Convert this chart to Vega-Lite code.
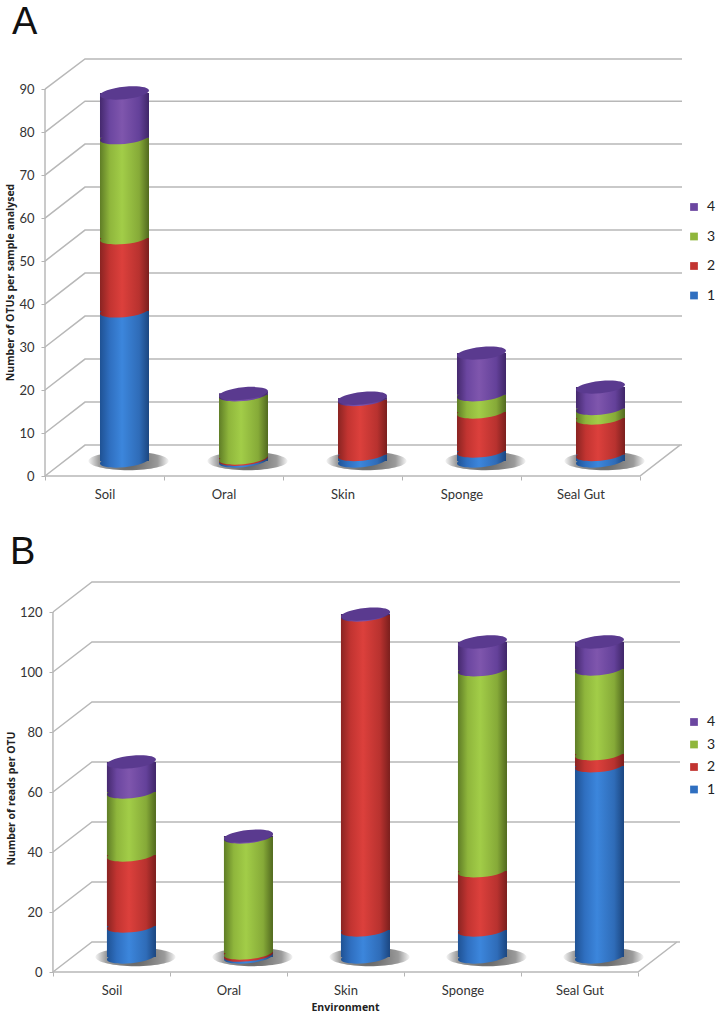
{"$schema":"https://vega.github.io/schema/vega-lite/v6.json","padding":{"left":5,"top":4,"right":0,"bottom":0},"background":"white","spacing":106,"bounds":"flush","resolve":{"scale":{"color":"independent"},"legend":{"color":"independent"}},"config":{"view":{"stroke":null},"font":"Lato","scale":{"continuousPadding":0},"axis":{"grid":false,"domain":false,"labelFont":"Lato","labelFontSize":13,"labelColor":"#333333","tickColor":"#b4b4b4","tickSize":4,"titleFont":"Open Sans","titleFontSize":10.5,"titleFontWeight":"bold","titleColor":"#222222"},"legend":{"labelFont":"Lato","labelFontSize":14,"labelColor":"#222222"}},
"datasets":{
"a":[{"env":"Soil","pos":0.5,"series":"1","value":34.9},{"env":"Soil","pos":0.5,"series":"2","value":17},{"env":"Soil","pos":0.5,"series":"3","value":23.3},{"env":"Soil","pos":0.5,"series":"4","value":10.4},
{"env":"Oral","pos":1.5,"series":"1","value":0.4},{"env":"Oral","pos":1.5,"series":"2","value":0.3},{"env":"Oral","pos":1.5,"series":"3","value":14.7},{"env":"Oral","pos":1.5,"series":"4","value":0.3},
{"env":"Skin","pos":2.5,"series":"1","value":1.5},{"env":"Skin","pos":2.5,"series":"2","value":12.8},{"env":"Skin","pos":2.5,"series":"3","value":0},{"env":"Skin","pos":2.5,"series":"4","value":0.3},
{"env":"Sponge","pos":3.5,"series":"1","value":2.3},{"env":"Sponge","pos":3.5,"series":"2","value":9.1},{"env":"Sponge","pos":3.5,"series":"3","value":4},{"env":"Sponge","pos":3.5,"series":"4","value":9.7},
{"env":"Seal Gut","pos":4.5,"series":"1","value":1.5},{"env":"Seal Gut","pos":4.5,"series":"2","value":8.5},{"env":"Seal Gut","pos":4.5,"series":"3","value":2.2},{"env":"Seal Gut","pos":4.5,"series":"4","value":5}],
"b":[{"env":"Soil","pos":0.5,"series":"1","value":10.3},{"env":"Soil","pos":0.5,"series":"2","value":23.7},{"env":"Soil","pos":0.5,"series":"3","value":21},{"env":"Soil","pos":0.5,"series":"4","value":10},
{"env":"Oral","pos":1.5,"series":"1","value":0.6},{"env":"Oral","pos":1.5,"series":"2","value":0.7},{"env":"Oral","pos":1.5,"series":"3","value":38.7},{"env":"Oral","pos":1.5,"series":"4","value":0.3},
{"env":"Skin","pos":2.5,"series":"1","value":9},{"env":"Skin","pos":2.5,"series":"2","value":105},{"env":"Skin","pos":2.5,"series":"3","value":0},{"env":"Skin","pos":2.5,"series":"4","value":0.3},
{"env":"Sponge","pos":3.5,"series":"1","value":9},{"env":"Sponge","pos":3.5,"series":"2","value":19.7},{"env":"Sponge","pos":3.5,"series":"3","value":67},{"env":"Sponge","pos":3.5,"series":"4","value":9.3},
{"env":"Seal Gut","pos":4.5,"series":"1","value":63.7},{"env":"Seal Gut","pos":4.5,"series":"2","value":4},{"env":"Seal Gut","pos":4.5,"series":"3","value":28.3},{"env":"Seal Gut","pos":4.5,"series":"4","value":9}],
"gridA":[{"g":"v0","x":0,"y":0},{"g":"v0","x":0.336,"y":7.2},{"g":"v0","x":5.353,"y":7.2},{"g":"v10","x":0,"y":10},{"g":"v10","x":0.336,"y":17.2},{"g":"v10","x":5.353,"y":17.2},{"g":"v20","x":0,"y":20},{"g":"v20","x":0.336,"y":27.2},{"g":"v20","x":5.353,"y":27.2},{"g":"v30","x":0,"y":30},{"g":"v30","x":0.336,"y":37.2},{"g":"v30","x":5.353,"y":37.2},{"g":"v40","x":0,"y":40},{"g":"v40","x":0.336,"y":47.2},{"g":"v40","x":5.353,"y":47.2},{"g":"v50","x":0,"y":50},{"g":"v50","x":0.336,"y":57.2},{"g":"v50","x":5.353,"y":57.2},{"g":"v60","x":0,"y":60},{"g":"v60","x":0.336,"y":67.2},{"g":"v60","x":5.353,"y":67.2},{"g":"v70","x":0,"y":70},{"g":"v70","x":0.336,"y":77.2},{"g":"v70","x":5.353,"y":77.2},{"g":"v80","x":0,"y":80},{"g":"v80","x":0.336,"y":87.2},{"g":"v80","x":5.353,"y":87.2},{"g":"v90","x":0,"y":90},{"g":"v90","x":0.336,"y":97},{"g":"v90","x":5.353,"y":97},{"g":"left","x":0,"y":0},{"g":"left","x":0,"y":90},{"g":"floor","x":0,"y":0},{"g":"floor","x":5,"y":0},{"g":"floor","x":5.336,"y":7.2}],
"gridB":[{"g":"v0","x":0,"y":0},{"g":"v0","x":0.333,"y":10},{"g":"v0","x":5.359,"y":10},{"g":"v20","x":0,"y":20},{"g":"v20","x":0.333,"y":30},{"g":"v20","x":5.359,"y":30},{"g":"v40","x":0,"y":40},{"g":"v40","x":0.333,"y":50},{"g":"v40","x":5.359,"y":50},{"g":"v60","x":0,"y":60},{"g":"v60","x":0.333,"y":70},{"g":"v60","x":5.359,"y":70},{"g":"v80","x":0,"y":80},{"g":"v80","x":0.333,"y":90},{"g":"v80","x":5.359,"y":90},{"g":"v100","x":0,"y":100},{"g":"v100","x":0.333,"y":110},{"g":"v100","x":5.359,"y":110},{"g":"v120","x":0,"y":120},{"g":"v120","x":0.333,"y":130},{"g":"v120","x":5.359,"y":130},{"g":"left","x":0,"y":0},{"g":"left","x":0,"y":120},{"g":"floor","x":0,"y":0},{"g":"floor","x":5,"y":0},{"g":"floor","x":5.333,"y":10}]
},
"vconcat":[
{"title":{"text":"A","anchor":"start","frame":"group","dx":-33,"offset":14,"fontSize":38,"font":"Liberation Sans","fontWeight":"normal","color":"#111111"},
"width":637,"height":417,
"data":{"name":"a"},
"transform":[{"stack":"value","groupby":["env"],"sort":[{"field":"series","order":"ascending"}],"as":["y0","y1"]},{"filter":"datum.value>0"}],
"layer":[
{"data":{"name":"gridA"},"mark":{"type":"line","color":"#b8b8b8","strokeWidth":1.5},"encoding":{"x":{"field":"x","type":"quantitative","scale":{"domain":[0,5.353],"nice":false},"axis":{"title":null,"values":[0,0.5,1,1.5,2,2.5,3,3.5,4,4.5,5],"labelExpr":"{'0.5':'Soil','1.5':'Oral','2.5':'Skin','3.5':'Sponge','4.5':'Seal Gut'}[''+datum.value]||''","labelOverlap":false,"labelPadding":8,"tickOpacity":{"condition":{"test":"datum.value%1!=0","value":0},"value":1}}},"y":{"field":"y","type":"quantitative","scale":{"domain":[0,97],"nice":false},"axis":{"title":"Number of OTUs per sample analysed","titleX":-30,"titleY":223,"labelPadding":7,"values":[0,10,20,30,40,50,60,70,80,90]}},"detail":{"field":"g"},"order":{"field":"x"}}},
{"transform":[{"filter":"datum.series=='1'"}],"mark":{"type":"point","filled":true,"strokeWidth":0,"xOffset":24,"yOffset":-15,"shape":"M-1,0A1,0.23 0 1,1 1,0A1,0.23 0 1,1 -1,0Z","size":6400,"opacity":1,"fill":{"gradient":"radial","x1":0.5,"y1":0.5,"r1":0.05,"x2":0.5,"y2":0.5,"r2":0.5,"stops":[{"offset":0,"color":"#666666"},{"offset":0.7,"color":"#9a9a9a"},{"offset":1,"color":"#f4f4f4"}]}},"encoding":{"x":{"field":"pos","type":"quantitative"},"y":{"field":"y0","type":"quantitative"}}},
{"mark":{"type":"bar","orient":"vertical","width":49,"xOffset":20,"x2Offset":20,"yOffset":-15,"y2Offset":-15},"encoding":{"x":{"field":"pos","type":"quantitative"},"y":{"field":"y0","type":"quantitative"},"y2":{"field":"y1"},"color":{"field":"series","type":"nominal","scale":{"domain":["4","3","2","1"],"range":["#6b46a0","#8fb63c","#c23431","#2f6fc0"]},"legend":{"title":null,"orient":"none","legendX":642,"legendY":141,"symbolType":"square","symbolSize":60,"rowPadding":15.5,"labelOffset":6}}}},
{"mark":{"type":"bar","orient":"vertical","width":49,"xOffset":20,"x2Offset":20,"yOffset":-15,"y2Offset":-15},"encoding":{"x":{"field":"pos","type":"quantitative"},"y":{"field":"y0","type":"quantitative"},"y2":{"field":"y1"},"fill":{"condition":[{"test":"datum.series=='1'","value":{"gradient":"linear","x1":0,"x2":1,"y1":0,"y2":0,"stops":[{"offset":0,"color":"#1f5294"},{"offset":0.2,"color":"#2f6fc0"},{"offset":0.45,"color":"#3c86dc"},{"offset":0.8,"color":"#2f6cb8"},{"offset":1,"color":"#1b4680"}]}},{"test":"datum.series=='2'","value":{"gradient":"linear","x1":0,"x2":1,"y1":0,"y2":0,"stops":[{"offset":0,"color":"#8a2422"},{"offset":0.2,"color":"#c23431"},{"offset":0.45,"color":"#dc403c"},{"offset":0.8,"color":"#b8322f"},{"offset":1,"color":"#7a1f1d"}]}},{"test":"datum.series=='3'","value":{"gradient":"linear","x1":0,"x2":1,"y1":0,"y2":0,"stops":[{"offset":0,"color":"#5f7d26"},{"offset":0.2,"color":"#8fb63c"},{"offset":0.45,"color":"#a2cd48"},{"offset":0.8,"color":"#86aa38"},{"offset":1,"color":"#51691f"}]}}],"value":{"gradient":"linear","x1":0,"x2":1,"y1":0,"y2":0,"stops":[{"offset":0,"color":"#45296e"},{"offset":0.2,"color":"#6b46a0"},{"offset":0.45,"color":"#7f56ad"},{"offset":0.8,"color":"#64419a"},{"offset":1,"color":"#3f2668"}]}}}},
{"mark":{"type":"point","filled":true,"strokeWidth":0,"opacity":1,"xOffset":20,"yOffset":-15,"shape":"M-1,0.1A1,0.25 -6 1,1 1,-0.1A1,0.25 -6 1,1 -1,0.1Z","size":2401},"encoding":{"x":{"field":"pos","type":"quantitative"},"y":{"field":"y0","type":"quantitative"},"fill":{"condition":[{"test":"datum.series=='1'","value":{"gradient":"linear","x1":0,"x2":1,"y1":0,"y2":0,"stops":[{"offset":0,"color":"#1f5294"},{"offset":0.2,"color":"#2f6fc0"},{"offset":0.45,"color":"#3c86dc"},{"offset":0.8,"color":"#2f6cb8"},{"offset":1,"color":"#1b4680"}]}},{"test":"datum.series=='2'","value":{"gradient":"linear","x1":0,"x2":1,"y1":0,"y2":0,"stops":[{"offset":0,"color":"#8a2422"},{"offset":0.2,"color":"#c23431"},{"offset":0.45,"color":"#dc403c"},{"offset":0.8,"color":"#b8322f"},{"offset":1,"color":"#7a1f1d"}]}},{"test":"datum.series=='3'","value":{"gradient":"linear","x1":0,"x2":1,"y1":0,"y2":0,"stops":[{"offset":0,"color":"#5f7d26"},{"offset":0.2,"color":"#8fb63c"},{"offset":0.45,"color":"#a2cd48"},{"offset":0.8,"color":"#86aa38"},{"offset":1,"color":"#51691f"}]}}],"value":{"gradient":"linear","x1":0,"x2":1,"y1":0,"y2":0,"stops":[{"offset":0,"color":"#45296e"},{"offset":0.2,"color":"#6b46a0"},{"offset":0.45,"color":"#7f56ad"},{"offset":0.8,"color":"#64419a"},{"offset":1,"color":"#3f2668"}]}},"order":{"field":"series"}}},
{"transform":[{"filter":"datum.series=='4'"}],"mark":{"type":"point","filled":true,"strokeWidth":0,"opacity":1,"fill":"#5a3a8f","xOffset":20,"yOffset":-15,"shape":"M-1,0.1A1,0.25 -6 1,1 1,-0.1A1,0.25 -6 1,1 -1,0.1Z","size":2401},"encoding":{"x":{"field":"pos","type":"quantitative"},"y":{"field":"y1","type":"quantitative"}}}
]},
{"title":{"text":"B","anchor":"start","frame":"group","dx":-35,"offset":7,"fontSize":38,"font":"Liberation Sans","fontWeight":"normal","color":"#111111"},
"width":635,"height":390,
"data":{"name":"b"},
"transform":[{"stack":"value","groupby":["env"],"sort":[{"field":"series","order":"ascending"}],"as":["y0","y1"]},{"filter":"datum.value>0"}],
"layer":[
{"data":{"name":"gridB"},"mark":{"type":"line","color":"#b8b8b8","strokeWidth":1.5},"encoding":{"x":{"field":"x","type":"quantitative","scale":{"domain":[-0.068,5.359],"nice":false},"axis":{"title":"Environment","titleX":300,"values":[0,0.5,1,1.5,2,2.5,3,3.5,4,4.5,5],"labelExpr":"{'0.5':'Soil','1.5':'Oral','2.5':'Skin','3.5':'Sponge','4.5':'Seal Gut'}[''+datum.value]||''","labelOverlap":false,"labelPadding":8,"titlePadding":5,"tickOpacity":{"condition":{"test":"datum.value%1!=0","value":0},"value":1}}},"y":{"field":"y","type":"quantitative","scale":{"domain":[0,130],"nice":false},"axis":{"title":"Number of reads per OTU","offset":-8,"titleX":-37,"titleY":216,"labelPadding":7,"values":[0,20,40,60,80,100,120]}},"detail":{"field":"g"},"order":{"field":"x"}}},
{"transform":[{"filter":"datum.series=='1'"}],"mark":{"type":"point","filled":true,"strokeWidth":0,"xOffset":24,"yOffset":-15,"shape":"M-1,0A1,0.23 0 1,1 1,0A1,0.23 0 1,1 -1,0Z","size":6400,"opacity":1,"fill":{"gradient":"radial","x1":0.5,"y1":0.5,"r1":0.05,"x2":0.5,"y2":0.5,"r2":0.5,"stops":[{"offset":0,"color":"#666666"},{"offset":0.7,"color":"#9a9a9a"},{"offset":1,"color":"#f4f4f4"}]}},"encoding":{"x":{"field":"pos","type":"quantitative"},"y":{"field":"y0","type":"quantitative"}}},
{"mark":{"type":"bar","orient":"vertical","width":49,"xOffset":20,"x2Offset":20,"yOffset":-15,"y2Offset":-15},"encoding":{"x":{"field":"pos","type":"quantitative"},"y":{"field":"y0","type":"quantitative"},"y2":{"field":"y1"},"color":{"field":"series","type":"nominal","scale":{"domain":["4","3","2","1"],"range":["#6b46a0","#8fb63c","#c23431","#2f6fc0"]},"legend":{"title":null,"orient":"none","legendX":642,"legendY":133,"symbolType":"square","symbolSize":60,"rowPadding":8.5,"labelOffset":6}}}},
{"mark":{"type":"bar","orient":"vertical","width":49,"xOffset":20,"x2Offset":20,"yOffset":-15,"y2Offset":-15},"encoding":{"x":{"field":"pos","type":"quantitative"},"y":{"field":"y0","type":"quantitative"},"y2":{"field":"y1"},"fill":{"condition":[{"test":"datum.series=='1'","value":{"gradient":"linear","x1":0,"x2":1,"y1":0,"y2":0,"stops":[{"offset":0,"color":"#1f5294"},{"offset":0.2,"color":"#2f6fc0"},{"offset":0.45,"color":"#3c86dc"},{"offset":0.8,"color":"#2f6cb8"},{"offset":1,"color":"#1b4680"}]}},{"test":"datum.series=='2'","value":{"gradient":"linear","x1":0,"x2":1,"y1":0,"y2":0,"stops":[{"offset":0,"color":"#8a2422"},{"offset":0.2,"color":"#c23431"},{"offset":0.45,"color":"#dc403c"},{"offset":0.8,"color":"#b8322f"},{"offset":1,"color":"#7a1f1d"}]}},{"test":"datum.series=='3'","value":{"gradient":"linear","x1":0,"x2":1,"y1":0,"y2":0,"stops":[{"offset":0,"color":"#5f7d26"},{"offset":0.2,"color":"#8fb63c"},{"offset":0.45,"color":"#a2cd48"},{"offset":0.8,"color":"#86aa38"},{"offset":1,"color":"#51691f"}]}}],"value":{"gradient":"linear","x1":0,"x2":1,"y1":0,"y2":0,"stops":[{"offset":0,"color":"#45296e"},{"offset":0.2,"color":"#6b46a0"},{"offset":0.45,"color":"#7f56ad"},{"offset":0.8,"color":"#64419a"},{"offset":1,"color":"#3f2668"}]}}}},
{"mark":{"type":"point","filled":true,"strokeWidth":0,"opacity":1,"xOffset":20,"yOffset":-15,"shape":"M-1,0.1A1,0.25 -6 1,1 1,-0.1A1,0.25 -6 1,1 -1,0.1Z","size":2401},"encoding":{"x":{"field":"pos","type":"quantitative"},"y":{"field":"y0","type":"quantitative"},"fill":{"condition":[{"test":"datum.series=='1'","value":{"gradient":"linear","x1":0,"x2":1,"y1":0,"y2":0,"stops":[{"offset":0,"color":"#1f5294"},{"offset":0.2,"color":"#2f6fc0"},{"offset":0.45,"color":"#3c86dc"},{"offset":0.8,"color":"#2f6cb8"},{"offset":1,"color":"#1b4680"}]}},{"test":"datum.series=='2'","value":{"gradient":"linear","x1":0,"x2":1,"y1":0,"y2":0,"stops":[{"offset":0,"color":"#8a2422"},{"offset":0.2,"color":"#c23431"},{"offset":0.45,"color":"#dc403c"},{"offset":0.8,"color":"#b8322f"},{"offset":1,"color":"#7a1f1d"}]}},{"test":"datum.series=='3'","value":{"gradient":"linear","x1":0,"x2":1,"y1":0,"y2":0,"stops":[{"offset":0,"color":"#5f7d26"},{"offset":0.2,"color":"#8fb63c"},{"offset":0.45,"color":"#a2cd48"},{"offset":0.8,"color":"#86aa38"},{"offset":1,"color":"#51691f"}]}}],"value":{"gradient":"linear","x1":0,"x2":1,"y1":0,"y2":0,"stops":[{"offset":0,"color":"#45296e"},{"offset":0.2,"color":"#6b46a0"},{"offset":0.45,"color":"#7f56ad"},{"offset":0.8,"color":"#64419a"},{"offset":1,"color":"#3f2668"}]}},"order":{"field":"series"}}},
{"transform":[{"filter":"datum.series=='4'"}],"mark":{"type":"point","filled":true,"strokeWidth":0,"opacity":1,"fill":"#5a3a8f","xOffset":20,"yOffset":-15,"shape":"M-1,0.1A1,0.25 -6 1,1 1,-0.1A1,0.25 -6 1,1 -1,0.1Z","size":2401},"encoding":{"x":{"field":"pos","type":"quantitative"},"y":{"field":"y1","type":"quantitative"}}}
]}
]}
